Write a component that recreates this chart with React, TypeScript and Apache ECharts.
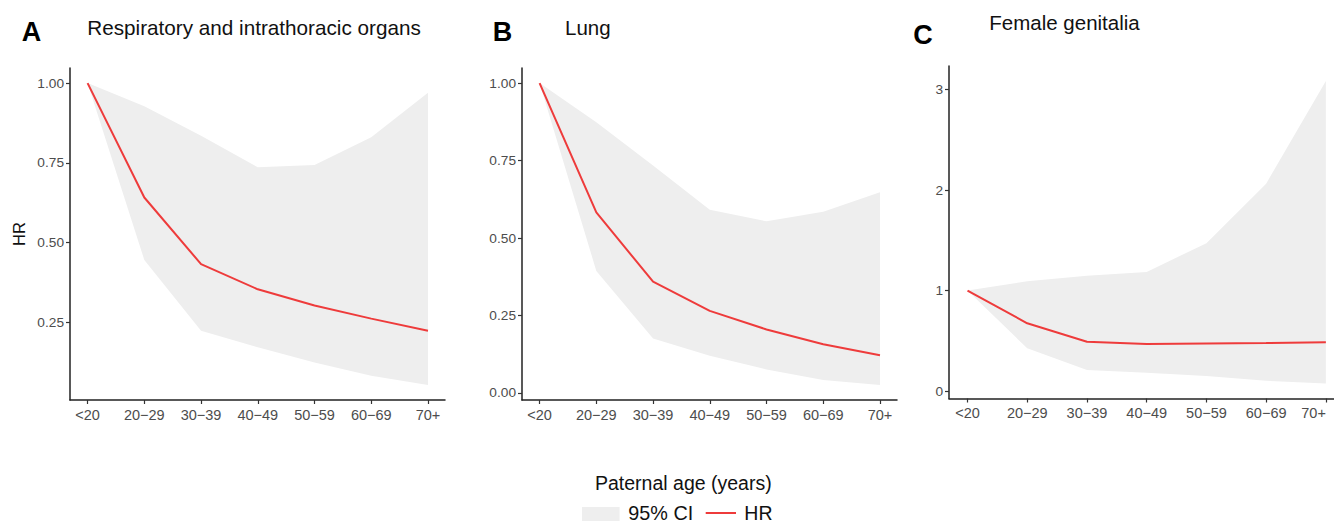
import React, { useEffect, useRef } from "react";
import * as echarts from "echarts";

// Categories (paternal age groups)
const categories = ["<20", "20−29", "30−39", "40−49", "50−59", "60−69", "70+"];

// Panel A: Respiratory and intrathoracic organs
const hrA = [1.0, 0.641, 0.432, 0.353, 0.302, 0.261, 0.223];
const upperA = [1.0, 0.927, 0.835, 0.736, 0.743, 0.83, 0.97];
const lowerA = [1.0, 0.445, 0.223, 0.171, 0.123, 0.082, 0.053];

// Panel B: Lung
const hrB = [1.0, 0.583, 0.359, 0.265, 0.205, 0.157, 0.122];
const upperB = [1.0, 0.874, 0.734, 0.591, 0.554, 0.585, 0.648];
const lowerB = [1.0, 0.394, 0.176, 0.12, 0.076, 0.042, 0.026];

// Panel C: Female genitalia
const hrC = [1.0, 0.675, 0.492, 0.469, 0.475, 0.479, 0.486];
const upperC = [1.0, 1.093, 1.149, 1.186, 1.472, 2.064, 3.084];
const lowerC = [1.0, 0.426, 0.209, 0.183, 0.15, 0.103, 0.077];

// Tick labels
const ticksA = [0.25, 0.5, 0.75, 1.0];
const ticksB = [0.0, 0.25, 0.5, 0.75, 1.0];
const ticksC = [0, 1, 2, 3];

const titles = ["Respiratory and intrathoracic organs", "Lung", "Female genitalia"];
const letters = ["A", "B", "C"];
const xTitle = "Paternal age (years)";
const yTitle = "HR";
const legendCI = "95% CI";
const legendHR = "HR";

const FONT = "'Liberation Sans', Arial, Helvetica, sans-serif";
const RED = "#EE3B3B";
const BAND = "#EEEEEE";
const AXIS = "#222222";
const LABEL = "#4D4D4D";

export default function App() {
  const ref = useRef<HTMLDivElement>(null);

  useEffect(() => {
    if (!ref.current) return;
    const chart = echarts.init(ref.current, null, { renderer: "svg" });

    const panels = [
      { hr: hrA, up: upperA, lo: lowerA, ticks: ticksA, dec: 2, edge: false, grid: { left: 70, top: 68, width: 375, height: 332 } },
      { hr: hrB, up: upperB, lo: lowerB, ticks: ticksB, dec: 2, edge: false, grid: { left: 522, top: 68, width: 375, height: 332 } },
      { hr: hrC, up: upperC, lo: lowerC, ticks: ticksC, dec: 0, edge: true, grid: { left: 949, top: 66, width: 394.8, height: 332.5 } },
    ];

    const catIdx = categories.map((_, i) => i);

    const grids: any[] = [];
    const xAxes: any[] = [];
    const yAxes: any[] = [];
    const series: any[] = [];

    panels.forEach((p, g) => {
      grids.push({ ...p.grid, containLabel: false, outerBoundsMode: "none" });
      const lo = Math.min(...p.lo);
      const hi = Math.max(...p.up);
      const pad = (hi - lo) * 0.05;
      xAxes.push({
        type: "value",
        gridIndex: g,
        min: -0.31,
        max: 6.3,
        splitLine: { show: false },
        axisLine: { show: true, onZero: false, lineStyle: { color: AXIS, width: 1.5 } },
        axisTick: { show: true, customValues: catIdx, length: 4, lineStyle: { color: "#333", width: 1.2 } },
        axisLabel: {
          customValues: catIdx,
          formatter: (v: number) => categories[Math.round(v)],
          color: LABEL,
          fontSize: 14.5,
          fontFamily: FONT,
          margin: 7,
          hideOverlap: false,
          ...(p.edge ? { alignMaxLabel: "right" } : {}),
        },
      });
      yAxes.push({
        type: "value",
        gridIndex: g,
        min: lo - pad,
        max: hi + pad,
        splitLine: { show: false },
        name: g === 0 ? yTitle : "",
        nameLocation: "middle",
        nameRotate: 90,
        nameGap: 43,
        nameTextStyle: { color: "#111", fontSize: 16.5, fontFamily: FONT },
        axisLine: { show: true, onZero: false, lineStyle: { color: AXIS, width: 1.5 } },
        axisTick: { show: true, customValues: p.ticks, length: 4, lineStyle: { color: "#333", width: 1.2 } },
        axisLabel: {
          customValues: p.ticks,
          formatter: (v: number) => v.toFixed(p.dec),
          color: LABEL,
          fontSize: 13.7,
          fontFamily: FONT,
          margin: 6,
        },
      });
      series.push({
        type: "custom",
        name: legendCI,
        xAxisIndex: g,
        yAxisIndex: g,
        silent: true,
        z: 1,
        data: p.up.map((v, i) => [i, p.lo[i], v]),
        encode: { x: 0, y: [1, 2] },
        renderItem: (params: any, api: any) => {
          if (params.dataIndex !== 0) return null;
          const top = p.up.map((v, i) => api.coord([i, v]));
          const bottom = p.lo.map((v, i) => api.coord([i, v])).reverse();
          return {
            type: "polygon",
            shape: { points: [...top, ...bottom] },
            style: { fill: BAND },
          };
        },
      });
      series.push({
        type: "line",
        name: legendHR,
        xAxisIndex: g,
        yAxisIndex: g,
        data: p.hr.map((v, i) => [i, v]),
        symbol: "none",
        lineStyle: { color: RED, width: 2 },
        z: 3,
      });
    });

    const txt = (text: string, x: number, y: number, size: number, bold = false, color = "#111") => ({
      type: "text",
      x,
      y,
      style: {
        text,
        fill: color,
        font: `${bold ? "bold " : ""}${size}px ${FONT}`,
        textAlign: "left",
        textVerticalAlign: "middle",
      },
    });

    const graphic: any[] = [
      txt(letters[0], 21.7, 31.7, 27, true, "#000"),
      txt(titles[0], 87.3, 27.5, 20.7),
      txt(letters[1], 492.7, 31.7, 27, true, "#000"),
      txt(titles[1], 565, 27.2, 20.5),
      txt(letters[2], 913.3, 35, 27, true, "#000"),
      txt(titles[2], 989.3, 22.5, 20.5),
      txt(xTitle, 595, 482.5, 19.5),
      { type: "rect", shape: { x: 582, y: 507, width: 37.6, height: 14 }, style: { fill: BAND } },
      txt(legendCI, 628.3, 512.5, 19.8),
      { type: "line", shape: { x1: 705.7, y1: 513, x2: 736, y2: 513 }, style: { stroke: RED, lineWidth: 2 } },
      txt(legendHR, 744.3, 512.5, 19.5),
    ];

    chart.setOption({
      animation: false,
      backgroundColor: "#ffffff",
      grid: grids,
      xAxis: xAxes,
      yAxis: yAxes,
      series,
      graphic,
    });

    return () => chart.dispose();
  }, []);

  return (
    <div
      ref={ref}
      style={{ position: "absolute", left: 0, top: 0, width: 1334, height: 523 }}
    />
  );
}
